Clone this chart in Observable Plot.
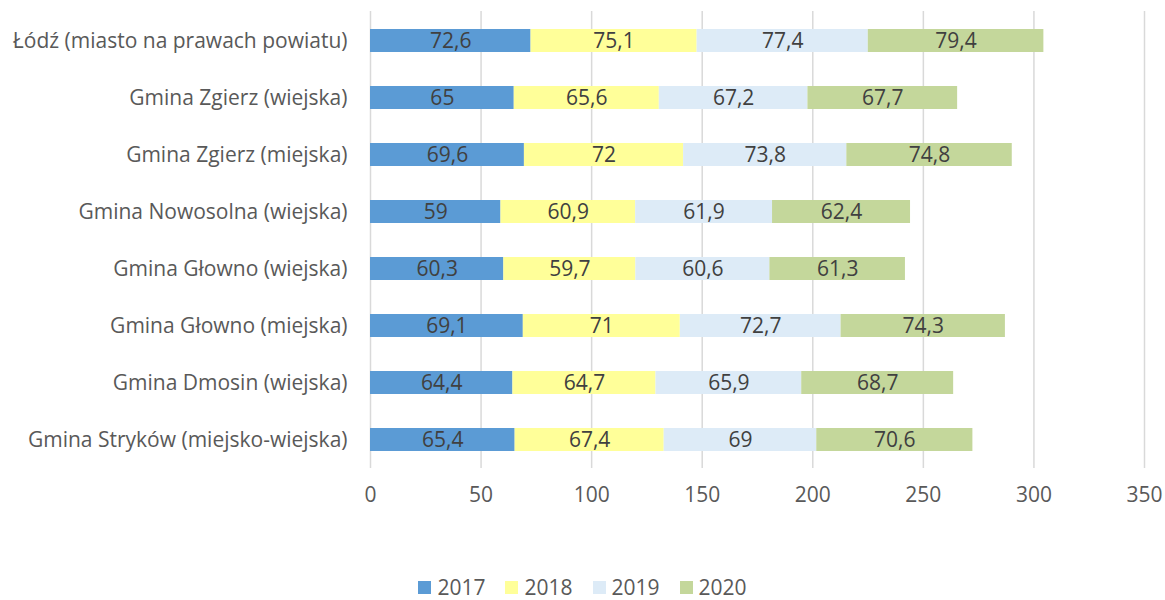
<!DOCTYPE html>
<html>
<head>
<meta charset="utf-8">
<script src="https://cdn.jsdelivr.net/npm/d3@7"></script>
<script src="https://cdn.jsdelivr.net/npm/@observablehq/plot@0.6"></script>
<style>
  html, body { margin: 0; padding: 0; background: #fff; }
  body { width: 1165px; height: 600px; overflow: hidden; font-family: "Open Sans", sans-serif; }
  #chart svg { display: block; }
  #legend { display: flex; justify-content: center; align-items: center; height: 26px; font-size: 21px; line-height: 22px; color: #595959; }
  #legend .item { display: flex; align-items: center; margin: 0 10px; }
  #legend .sw { width: 13px; height: 13px; margin-right: 6px; }
</style>
</head>
<body>
<div id="chart"></div>
<div id="legend"></div>
<script>
const categories = [
  "Łódź (miasto na prawach powiatu)",
  "Gmina Zgierz (wiejska)",
  "Gmina Zgierz (miejska)",
  "Gmina Nowosolna (wiejska)",
  "Gmina Głowno (wiejska)",
  "Gmina Głowno (miejska)",
  "Gmina Dmosin (wiejska)",
  "Gmina Stryków (miejsko-wiejska)"
];
const years = ["2017", "2018", "2019", "2020"];
const values2017 = [72.6, 65, 69.6, 59, 60.3, 69.1, 64.4, 65.4];
const values2018 = [75.1, 65.6, 72, 60.9, 59.7, 71, 64.7, 67.4];
const values2019 = [77.4, 67.2, 73.8, 61.9, 60.6, 72.7, 65.9, 69];
const values2020 = [79.4, 67.7, 74.8, 62.4, 61.3, 74.3, 68.7, 70.6];
const colors = ["#5B9BD5", "#FFFF99", "#DDEBF7", "#C4D79B"];
const xTicks = [0, 50, 100, 150, 200, 250, 300, 350];

const series = [values2017, values2018, values2019, values2020];
const data = [];
years.forEach((yr, i) => {
  categories.forEach((c, j) => {
    data.push({cat: c, year: yr, value: series[i][j]});
  });
});
const fmt = v => String(v).replace(".", ",");

const chart = Plot.plot({
  width: 1165,
  height: 574,
  marginLeft: 370,
  marginRight: 21,
  marginTop: 11,
  marginBottom: 106,
  style: {fontFamily: "'Open Sans', sans-serif", fontSize: "21px", color: "#595959", background: "#fff"},
  x: {domain: [0, 350], ticks: xTicks, label: null},
  y: {domain: categories, label: null, paddingInner: 0.6, paddingOuter: 0.3},
  color: {domain: years, range: colors},
  marks: [
    Plot.gridX(xTicks, {stroke: "#D9D9D9", strokeOpacity: 1, strokeWidth: 1.5}),
    Plot.axisX({ticks: xTicks, tickSize: 0, tickPadding: 19, fontSize: 21, fill: "#595959", label: null}),
    Plot.axisY({tickSize: 0, tickPadding: 23, fontSize: 21, fill: "#595959", label: null}),
    Plot.barX(data, Plot.stackX({x: "value", y: "cat", fill: "year", order: null})),
    Plot.text(data, Plot.stackX({x: "value", y: "cat", z: "year", order: null, text: d => fmt(d.value), fill: "#404040", fontSize: 21}))
  ]
});
document.getElementById("chart").appendChild(chart);

const legend = document.getElementById("legend");
years.forEach((yr, i) => {
  const item = document.createElement("div");
  item.className = "item";
  const sw = document.createElement("div");
  sw.className = "sw";
  sw.style.background = colors[i];
  const t = document.createElement("span");
  t.textContent = yr;
  item.appendChild(sw);
  item.appendChild(t);
  legend.appendChild(item);
});
</script>
</body>
</html>
